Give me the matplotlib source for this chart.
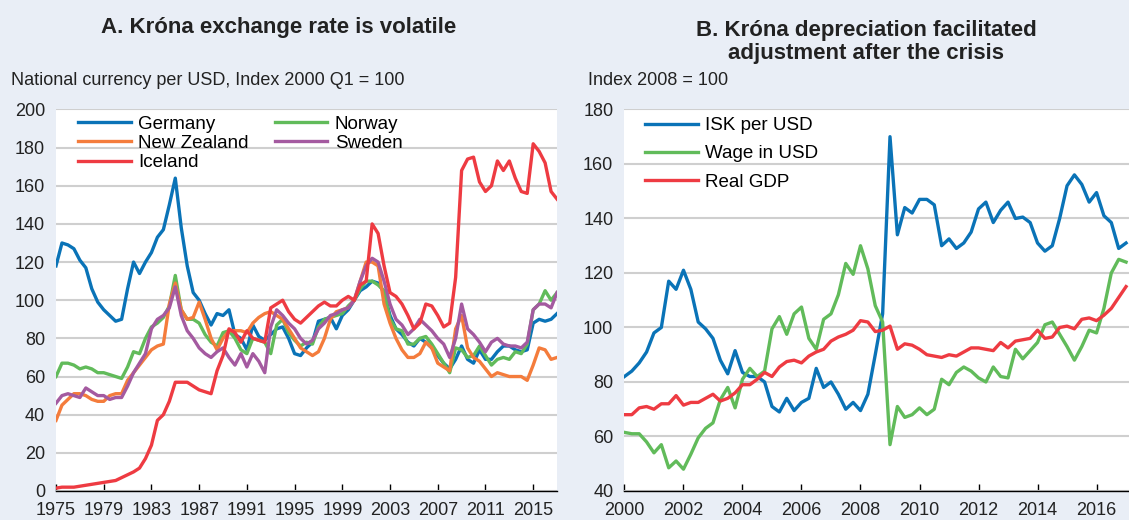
import numpy as np
import matplotlib
matplotlib.use("Agg")
import matplotlib.pyplot as plt

plt.rcParams['font.family'] = ['Liberation Sans', 'DejaVu Sans']

# ---- Panel A: national currency per USD, index 2000 Q1 = 100 (semi-annual reads)
years_a = np.arange(1975, 2017.01, 0.5)

germany = [118, 130, 129, 127, 121, 117, 106, 99, 95, 92, 89, 90, 106, 120, 114, 120,
           125, 133, 137, 150, 164, 138, 118, 104, 100, 93, 87, 93, 92, 95, 82, 80,
           74, 87, 81, 79, 82, 85, 86, 80, 72, 71, 75, 78, 89, 90, 91, 85,
           92, 95, 100, 105, 107, 110, 109, 104, 92, 85, 82, 78, 76, 80, 78, 75,
           71, 67, 64, 69, 76, 69, 67, 74, 69, 69, 73, 76, 76, 74, 73, 74,
           88, 90, 89, 90, 93]
norway = [60, 67, 67, 66, 64, 65, 64, 62, 62, 61, 60, 59, 65, 73, 72, 80,
          86, 88, 91, 97, 113, 95, 90, 90, 88, 82, 78, 76, 83, 84, 80, 74,
          72, 80, 79, 78, 72, 87, 90, 83, 79, 76, 78, 77, 86, 90, 91, 92,
          93, 97, 100, 106, 110, 110, 108, 105, 90, 85, 84, 77, 77, 80, 81, 77,
          72, 67, 62, 75, 74, 70, 71, 76, 71, 66, 69, 70, 69, 73, 72, 77,
          95, 98, 105, 100, 104]
new_zealand = [37, 45, 48, 51, 51, 50, 48, 47, 47, 50, 51, 51, 58, 62, 66, 70,
               74, 76, 77, 98, 109, 95, 90, 91, 99, 90, 80, 74, 80, 84, 84, 84,
               83, 88, 91, 93, 94, 92, 90, 85, 80, 75, 73, 71, 73, 80, 90, 94,
               95, 96, 100, 110, 120, 120, 118, 98, 88, 80, 74, 70, 70, 72, 78, 75,
               67, 65, 63, 85, 92, 75, 70, 68, 64, 60, 62, 61, 60, 60, 60, 58,
               66, 75, 74, 69, 70]
sweden = [46, 50, 51, 50, 49, 54, 52, 50, 50, 48, 49, 49, 55, 62, 67, 72,
          85, 90, 92, 96, 107, 92, 84, 80, 75, 72, 70, 73, 75, 70, 66, 72,
          65, 72, 68, 62, 86, 95, 92, 88, 85, 80, 77, 79, 85, 88, 92, 93,
          95, 96, 100, 110, 118, 122, 120, 110, 98, 90, 87, 82, 85, 90, 87, 84,
          80, 77, 70, 80, 98, 85, 82, 78, 73, 78, 80, 77, 76, 76, 75, 78,
          95, 98, 98, 96, 104]
iceland = [1.5, 2, 2, 2, 2.5, 3, 3.5, 4, 4.5, 5, 5.5, 7, 8.5, 10, 12, 17,
           24, 37, 40, 47, 57, 57, 57, 55, 53, 52, 51, 63, 71, 85, 83, 78,
           84, 80, 79, 78, 96, 98, 100, 94, 90, 88, 91, 94, 97, 99, 97, 97,
           100, 102, 100, 108, 110, 140, 135, 118, 104, 102, 98, 92, 85, 88, 98, 97,
           92, 86, 88, 112, 168, 174, 175, 162, 157, 160, 173, 168, 173, 164, 157, 156,
           182, 178, 172, 157, 153]

# ---- Panel B: index 2008 = 100 (quarterly reads)
years_b = np.arange(2000, 2017.01, 0.25)

isk_per_usd = [82, 84, 87, 91, 98, 100, 117, 114, 121, 114, 102, 99.5,
               96, 88, 83, 91.5, 83.5, 82, 82, 80, 71, 69, 74, 69.5,
               72.5, 74, 85, 78, 80, 75.5, 70, 72.5, 69.5, 75.5, 90, 105,
               170, 134, 144, 142, 147, 147, 145, 130, 132.5, 129, 131, 135,
               143.5, 146, 138.5, 143, 146, 140, 140.5, 138.5, 131, 128, 130, 140,
               152, 156, 152.5, 146, 149.5, 141, 138.5, 129, 131]
wage_in_usd = [61.5, 61, 61, 58, 54, 57, 48.5, 51, 48, 53.5, 59.5, 63,
               65, 73.5, 78, 70.5, 81, 85, 82, 84, 99.5, 104, 97.5, 105,
               107.5, 96, 92, 103, 105, 112, 123.5, 119.5, 130, 121.5, 108, 102,
               57, 71, 67, 68, 70.5, 68, 70, 81, 79, 83.5, 85.5, 84,
               81.5, 80, 85.5, 82, 81.5, 92, 88.5, 91.5, 94.5, 101, 102, 97.5,
               93, 88, 93, 99, 98, 107, 120, 125, 124]
real_gdp = [68, 68, 70.5, 71, 70, 72, 72, 75, 71.5, 72.5, 72.5, 74,
            75.5, 73, 74, 76, 79, 79, 81, 83.5, 82, 85.5, 87.5, 88,
            87, 89.5, 91, 92, 95, 96.5, 97.5, 99, 102.5, 102, 98.5, 99,
            100.5, 92, 94, 93.5, 92, 90, 89.5, 89, 90, 89.5, 91, 92.5,
            92.5, 92, 91.5, 94.5, 92.5, 95, 95.5, 96, 99, 96, 96.5, 100,
            100.5, 99.5, 103, 103.5, 102.5, 104.5, 107, 111, 115]

BG = '#e9eef6'
GRID = '#cfcfcf'
C_BLUE = '#0a73b7'
C_GREEN = '#61bb5a'
C_ORANGE = '#f47c3c'
C_PURPLE = '#a45aa0'
C_RED = '#ee3b42'
LW = 2.4
TXT = '#222222'

fig = plt.figure(figsize=(11.29, 5.20), dpi=100, facecolor=BG)


def style_axis(ax):
    ax.set_facecolor('white')
    for side in ['top', 'right', 'left']:
        ax.spines[side].set_visible(False)
    ax.spines['bottom'].set_color('black')
    ax.spines['bottom'].set_linewidth(1.0)
    ax.grid(axis='y', color=GRID, linewidth=1.5)
    ax.set_axisbelow(True)
    ax.tick_params(axis='y', length=0, pad=8, labelsize=13, labelcolor=TXT)
    ax.tick_params(axis='x', direction='in', length=5, width=1, pad=8,
                   labelsize=13, labelcolor=TXT)


# Panel A
ax1 = fig.add_axes([0.0496, 0.0558, 0.4438, 0.7337])
style_axis(ax1)
l_de, = ax1.plot(years_a, germany, color=C_BLUE, lw=LW, label='Germany')
l_no, = ax1.plot(years_a, norway, color=C_GREEN, lw=LW, label='Norway')
l_nz, = ax1.plot(years_a, new_zealand, color=C_ORANGE, lw=LW, label='New Zealand')
l_se, = ax1.plot(years_a, sweden, color=C_PURPLE, lw=LW, label='Sweden')
l_is, = ax1.plot(years_a, iceland, color=C_RED, lw=LW, label='Iceland')
ax1.set_xlim(1975, 2017)
ax1.set_ylim(0, 200)
ax1.set_xticks(np.arange(1975, 2016, 4))
ax1.set_yticks(np.arange(0, 201, 20))
ax1.legend(handles=[l_de, l_nz, l_is, l_no, l_se], ncol=2, frameon=False,
           loc='upper left', bbox_to_anchor=(0.029, 1.004), fontsize=13.5,
           handlelength=2.8, handletextpad=0.4, columnspacing=1.4,
           labelspacing=0.12, borderaxespad=0)

# Panel B
ax2 = fig.add_axes([0.5531, 0.0558, 0.4469, 0.7337])
style_axis(ax2)
ax2.plot(years_b, isk_per_usd, color=C_BLUE, lw=LW, label='ISK per USD')
ax2.plot(years_b, wage_in_usd, color=C_GREEN, lw=LW, label='Wage in USD')
ax2.plot(years_b, real_gdp, color=C_RED, lw=LW, label='Real GDP')
ax2.set_xlim(2000, 2017.1)
ax2.set_ylim(40, 180)
ax2.set_xticks(np.arange(2000, 2017, 2))
ax2.set_yticks(np.arange(40, 181, 20))
ax2.legend(frameon=False, loc='upper left', bbox_to_anchor=(0.026, 1.0),
           fontsize=13.5, handlelength=2.8, handletextpad=0.4,
           labelspacing=0.6, borderaxespad=0)

# Titles and unit labels
fig.text(0.247, 0.948, 'A. Króna exchange rate is volatile', ha='center', va='center',
         fontsize=16, fontweight='bold', color=TXT)
fig.text(0.010, 0.846, 'National currency per USD, Index 2000 Q1 = 100', ha='left',
         va='center', fontsize=13, color=TXT)
fig.text(0.767, 0.919, 'B. Króna depreciation facilitated\nadjustment after the crisis',
         ha='center', va='center', fontsize=16, fontweight='bold', color=TXT,
         linespacing=1.15)
fig.text(0.521, 0.846, 'Index 2008 = 100', ha='left', va='center', fontsize=13,
         color=TXT)

fig.savefig('out.png', dpi=100, facecolor=BG)
